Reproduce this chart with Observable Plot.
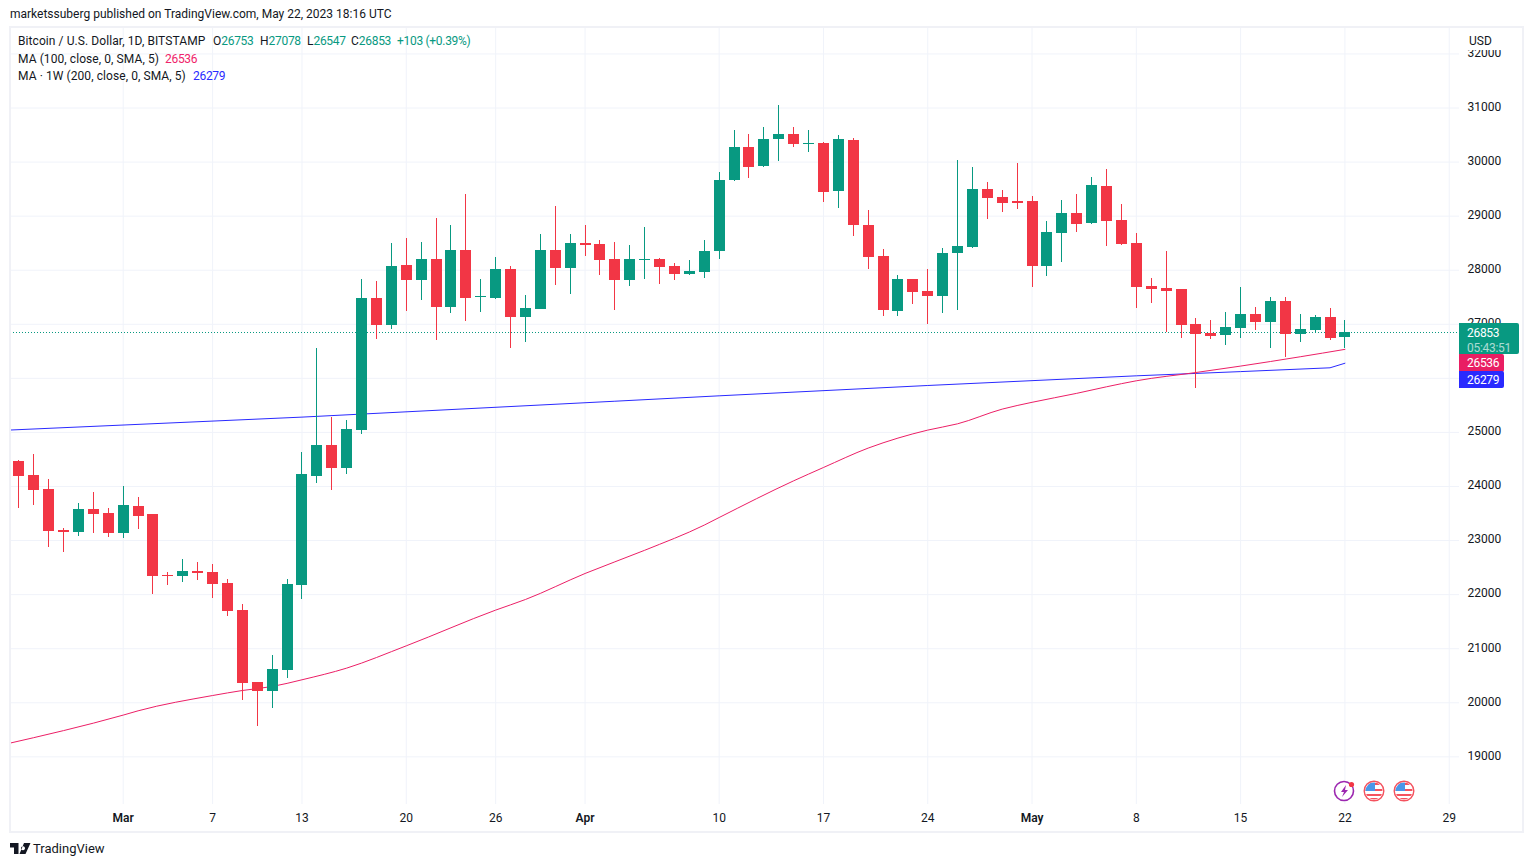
<!DOCTYPE html>
<html>
<head>
<meta charset="utf-8">
<script src="https://cdn.jsdelivr.net/npm/d3@7"></script>
<script src="https://cdn.jsdelivr.net/npm/@observablehq/plot@0.6"></script>
<style>
html,body{margin:0;padding:0;background:#fff;overflow:hidden}
body{position:relative;width:1533px;height:867px;font-family:Roboto,sans-serif;color:#131722;font-size:12px}
#chart{position:absolute;left:0;top:0}
.abs{position:absolute;white-space:nowrap;line-height:16px}
.g{color:#089981}
.n{letter-spacing:-.3px}
.t{letter-spacing:.08px}
.box{position:absolute;left:1459px;color:#fff;border-radius:0 2px 2px 0;padding-left:8px;box-sizing:border-box;letter-spacing:-.3px}
</style>
</head>
<body>
<div id="chart"></div>
<div class="abs" style="left:1460px;top:28px;width:62px;height:22px;background:#fff"></div>
<div class="abs" style="left:1469px;top:33px;">USD</div>
<div class="abs" style="left:9px;top:26px;width:1511px;height:803px;border:2px solid #f0f1f6;"></div>
<div class="abs" style="left:10px;top:6px;font-size:12px">marketssuberg published on TradingView.com, May 22, 2023 18:16 UTC</div>
<div class="abs t" style="left:18px;top:33px">Bitcoin / U.S. Dollar, 1D, BITSTAMP</div>
<div class="abs" style="left:213px;top:33px">O<span class="g n">26753</span></div>
<div class="abs" style="left:260px;top:33px">H<span class="g n">27078</span></div>
<div class="abs" style="left:307px;top:33px">L<span class="g n">26547</span></div>
<div class="abs" style="left:351px;top:33px">C<span class="g n">26853</span></div>
<div class="abs g n" style="left:397px;top:33px">+103 (+0.39%)</div>
<div class="abs t" style="left:18px;top:51px">MA (100, close, 0, SMA, 5)</div>
<div class="abs n" style="left:165px;top:51px;color:#f0246a">26536</div>
<div class="abs t" style="left:18px;top:68px">MA · 1W (200, close, 0, SMA, 5)</div>
<div class="abs n" style="left:193px;top:68px;color:#2a2aff">26279</div>
<div class="box" style="top:323px;width:60px;height:31px;background:#089981;padding-top:3px;line-height:14.5px">26853<br><span style="opacity:.65">05:43:51</span></div>
<div class="box" style="top:354px;width:45px;height:18px;background:#e91e63;line-height:19px">26536</div>
<div class="box" style="top:371px;width:45px;height:17px;background:#2a2aff;line-height:18px">26279</div>
<svg class="abs" style="left:1330px;top:777px" width="90" height="28" viewBox="1330 777 90 28">
  <circle cx="1344" cy="791" r="9.5" fill="#fff" stroke="#9c27b0" stroke-width="1.6"/>
  <path d="M1346 785 L1341 792 H1344 L1342 797 L1348 790 H1345 Z" fill="#9c27b0"/>
  <circle cx="1351.5" cy="784.5" r="2.6" fill="#f23645"/>
  <g id="flag">
    <clipPath id="c1"><circle cx="1374" cy="791" r="8.5"/></clipPath>
    <circle cx="1374" cy="791" r="9.8" fill="#fff" stroke="#f4525e" stroke-width="1.4"/>
    <g clip-path="url(#c1)">
      <rect x="1365" y="783" width="18" height="2" fill="#f4525e"/>
      <rect x="1365" y="789" width="18" height="2" fill="#f4525e"/>
      <rect x="1365" y="794" width="18" height="2" fill="#f4525e"/>
      <rect x="1365" y="798" width="18" height="2" fill="#f4525e"/>
      <rect x="1365" y="782" width="10" height="9" fill="#4a97e8"/>
    </g>
  </g>
  <use href="#flag" x="30"/>
</svg>
<svg class="abs" style="left:10px;top:843px" width="22" height="12" viewBox="0 0 22 12">
  <path d="M0 0H8.5V11H4V4.5H0Z M13 3.2a2 2 0 1 1 -0.01 0Z M14 0H20.5L15.5 11H9.5Z" fill="#131722" fill-rule="evenodd"/>
</svg>
<div class="abs" style="left:33px;top:841px;font-size:13px">TradingView</div>
<script>
const firstDay = Date.UTC(2023, 1, 22);
const opens = [24469,24210,23951,23192,23155,23581,23507,23137,23636,23488,22360,22341,22433,22415,22211,21711,20379,20212,20601,22175,24194,24749,24342,25027,27470,26970,28081,27803,28192,27303,28358,27488,27470,28007,27118,27266,28358,28025,28488,28469,28192,27803,28173,28192,28062,27914,27952,28341,29655,30266,29914,30414,30506,30321,30340,29451,30395,28822,28248,27230,27822,27600,27508,28304,28415,29488,29340,29266,29266,28063,28673,29044,28859,29543,28914,28488,27693,27655,27637,26989,26823,26785,26915,27174,27026,27415,26804,26878,27119,26753];
const highs = [24488,24599,24136,23223,23692,23896,23600,24007,23803,23490,22415,22655,22600,22563,22285,21822,20380,20878,22285,24636,26544,25267,25212,27821,27785,28488,28580,28506,28951,28821,29395,27821,28229,28062,27525,28654,29173,28654,28821,28543,28506,28451,28784,28210,28118,28173,28544,29803,30580,30506,30636,31043,30636,30580,30358,30488,30432,29100,28378,27896,27822,28007,28396,30025,29896,29618,29470,29970,29358,28896,29284,29395,29710,29858,29210,28673,27840,28340,27637,27100,27063,27211,27674,27304,27489,27489,27174,27156,27285,27078];
const lows = [23599,23655,22877,22785,23081,23137,23063,23044,23211,22007,22174,22230,22267,21933,21600,20046,19565,19897,20453,21915,24064,23934,24231,24953,26711,26896,27229,27433,26692,27192,27044,27211,27451,26544,26655,27266,27710,27544,28247,27896,27248,27692,27821,27729,27803,27896,27841,28193,29636,29692,29896,30007,30266,30173,29248,29137,28618,28007,27138,27138,27360,26990,27193,27249,28396,28933,29063,29118,27674,27878,28137,28692,28840,28433,28451,27285,27378,26841,26730,25804,26711,26600,26730,26878,26545,26378,26656,26841,26693,26547];
const closes = [24192,23933,23174,23155,23581,23488,23137,23655,23451,22341,22341,22433,22396,22193,21693,20360,20212,20619,22193,24229,24749,24342,25045,27470,26970,28062,27803,28192,27303,28358,27470,27507,28007,27118,27285,28358,28025,28488,28451,28173,27803,28192,28192,28044,27914,27970,28341,29655,30266,29896,30414,30506,30321,30340,29433,30414,28822,28230,27249,27822,27582,27508,28304,28433,29488,29322,29229,29229,28063,28692,29044,28840,29562,28896,28470,27674,27637,27600,26971,26804,26767,26934,27174,27026,27415,26804,26897,27119,26730,26853];

const ma100Dates = ["2023-02-21","2023-03-01","2023-03-02","2023-03-07","2023-03-09","2023-03-11","2023-03-13","2023-03-16","2023-03-20","2023-03-26","2023-03-28","2023-04-01","2023-04-05","2023-04-09","2023-04-10","2023-04-15","2023-04-17","2023-04-20","2023-04-22","2023-04-24","2023-04-26","2023-04-29","2023-05-01","2023-05-04","2023-05-06","2023-05-08","2023-05-12","2023-05-15","2023-05-19","2023-05-22"];
const ma100Values = [19228,19772,19851,20134,20227,20301,20425,20641,21053,21714,21910,22391,22820,23286,23426,24105,24351,24710,24895,25043,25159,25431,25557,25723,25844,25955,26108,26227,26399,26536];
const ma1wDates = ["2023-02-21","2023-03-13","2023-04-03","2023-04-10","2023-04-24","2023-05-08","2023-05-15","2023-05-21","2023-05-22"];
const ma1wValues = [25039,25283,25577,25677,25868,26047,26125,26195,26279];

const priceTicks = [19000,20000,21000,22000,23000,24000,25000,26000,27000,28000,29000,30000,31000,32000];
const dayTicks = ["2023-03-07","2023-03-13","2023-03-20","2023-03-26","2023-04-10","2023-04-17","2023-04-24","2023-05-08","2023-05-15","2023-05-22","2023-05-29"].map(d => new Date(d));
const monthTicks = ["2023-03-01","2023-04-01","2023-05-01"].map(d => new Date(d));
const lastClose = 26853;

const GREEN = "#089981", RED = "#f23645", GRID = "#f0f3fa";
const candles = opens.map((o, i) => ({
  date: new Date(firstDay + i * 864e5),
  open: o, high: highs[i], low: lows[i], close: closes[i],
  color: closes[i] >= o ? GREEN : RED
}));
const ma100 = ma100Dates.map((d, i) => ({date: new Date(d), value: ma100Values[i]}));
const ma1w = ma1wDates.map((d, i) => ({date: new Date(d), value: ma1wValues[i]}));

const pxDay = 14.899;
const plot = Plot.plot({
  width: 1533, height: 867,
  marginLeft: 10, marginRight: 74, marginTop: 28, marginBottom: 63,
  style: {fontFamily: "Roboto, sans-serif", fontSize: "12px", color: "#131722", background: "#fff"},
  color: {type: "identity"},
  x: {type: "utc", domain: [new Date(firstDay - 8.4 / pxDay * 864e5), new Date(firstDay + 1440.6 / pxDay * 864e5)]},
  y: {type: "linear", domain: [18118.5, 32470.5]},
  marks: [
    Plot.gridY(priceTicks, {stroke: GRID, strokeOpacity: 1}),
    Plot.gridX([...dayTicks, ...monthTicks], {stroke: GRID, strokeOpacity: 1}),
    Plot.axisY({anchor: "right", ticks: priceTicks, tickSize: 0, tickPadding: 8, tickFormat: d => String(d), label: null, fill: "#131722", dy: -1, style: {letterSpacing: "-0.3px"}}),
    Plot.axisX({ticks: dayTicks, tickSize: 0, tickPadding: 8.5, tickFormat: d3.utcFormat("%-d"), label: null, fill: "#131722"}),
    Plot.axisX({ticks: monthTicks, tickSize: 0, tickPadding: 8.5, tickFormat: d3.utcFormat("%b"), label: null, fill: "#131722", fontWeight: 600}),
    Plot.ruleY([lastClose], {stroke: GREEN, strokeDasharray: "1,2", strokeWidth: 1, shapeRendering: "crispEdges"}),
    Plot.line(ma1w, {x: "date", y: "value", stroke: "#2a2aff", strokeWidth: 1, clip: true}),
    Plot.line(ma100, {x: "date", y: "value", stroke: "#ec1f66", strokeWidth: 1, clip: true, curve: "monotone-x"}),
    Plot.ruleX(candles, {x: "date", y1: "low", y2: "high", stroke: "color", strokeWidth: 1, shapeRendering: "crispEdges"}),
    Plot.ruleX(candles, {x: "date", y1: "open", y2: "close", stroke: "color", strokeWidth: 11, shapeRendering: "crispEdges"})
  ]
});
document.getElementById("chart").appendChild(plot);
</script>
</body>
</html>
